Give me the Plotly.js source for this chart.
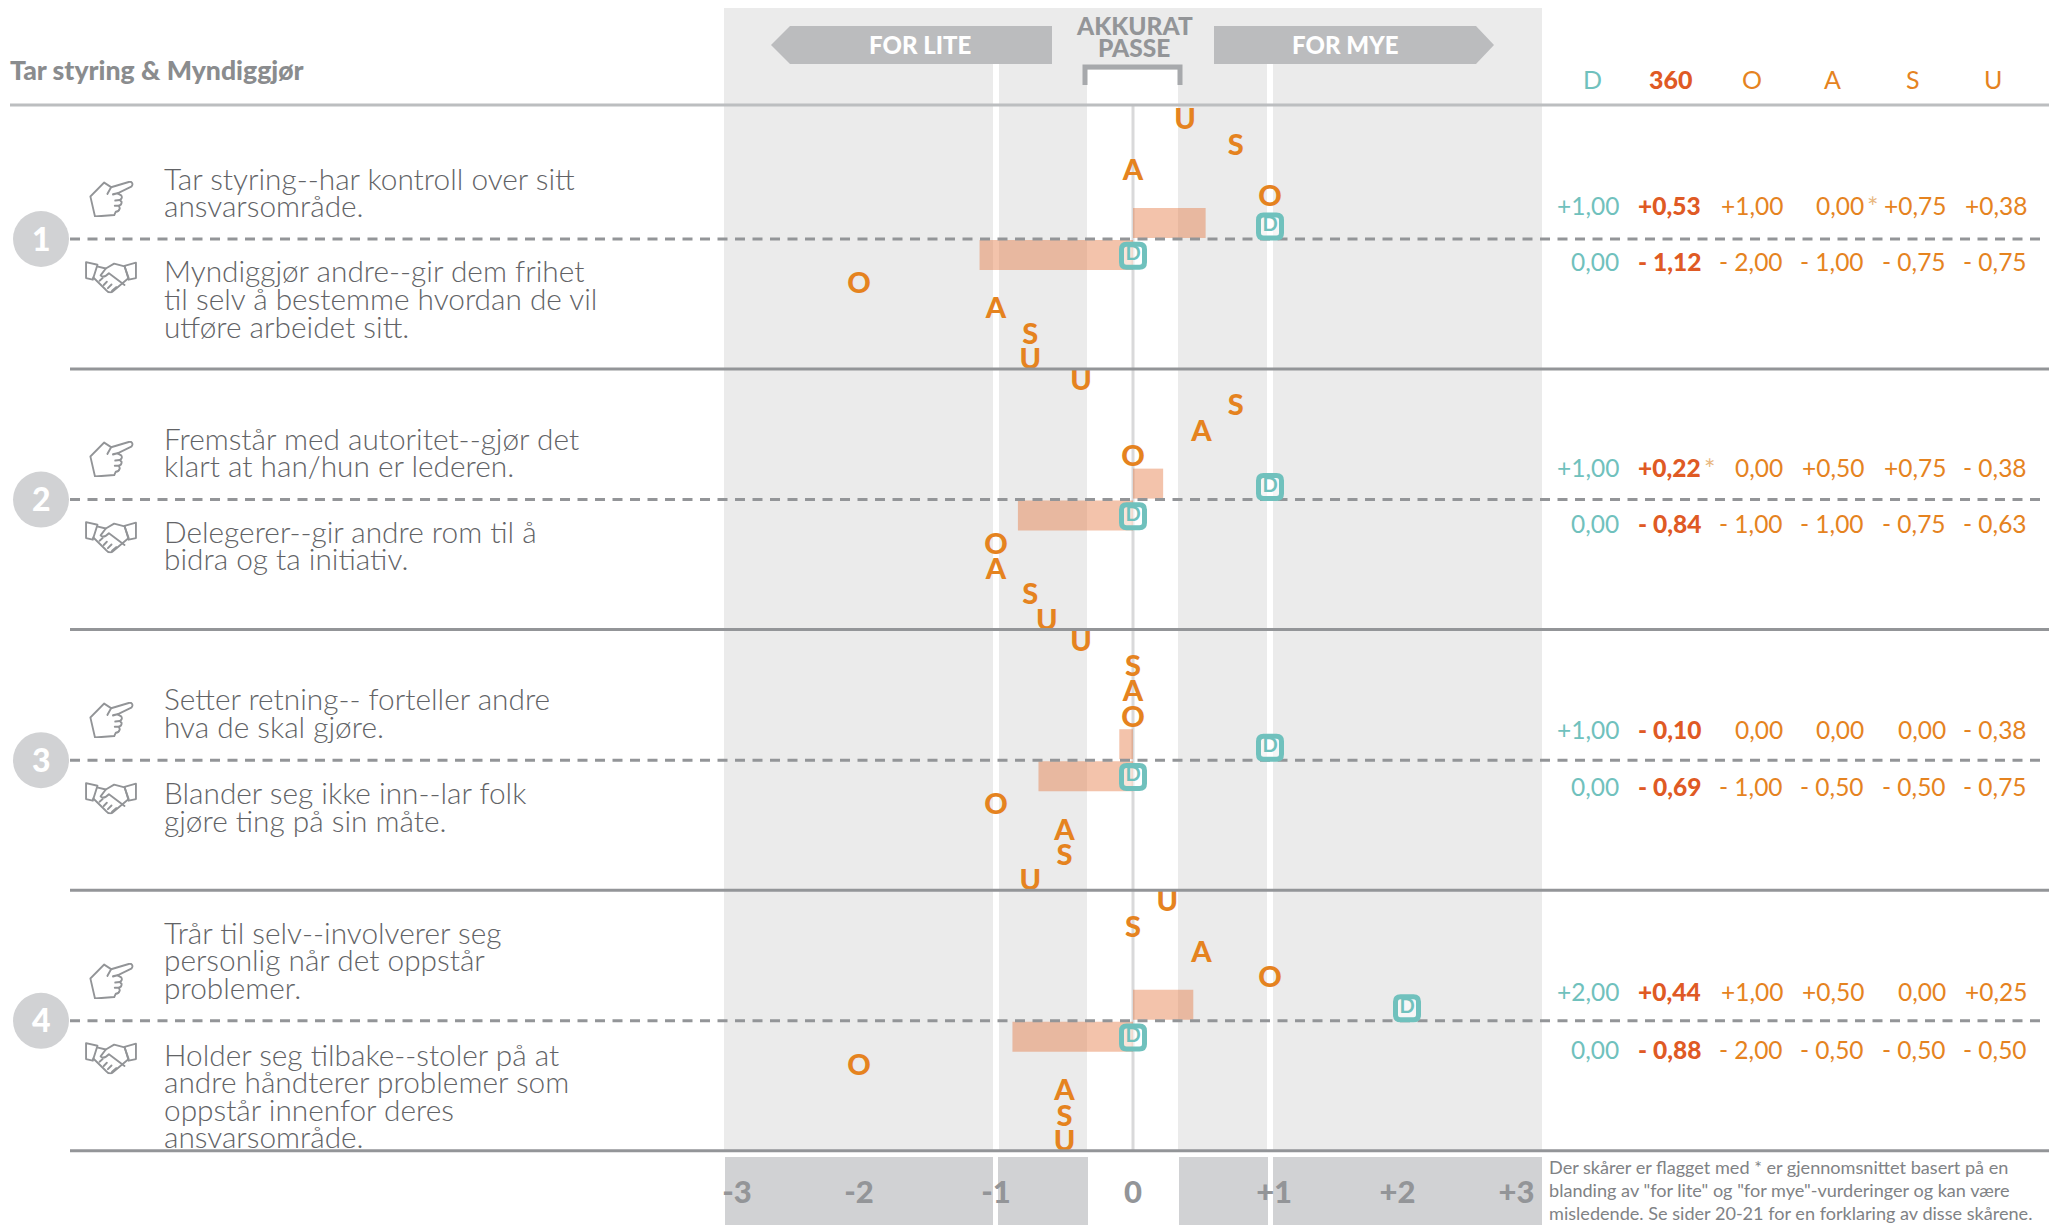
<!DOCTYPE html>
<html><head><meta charset="utf-8">
<script src="https://cdn.plot.ly/plotly-3.0.1.min.js"></script>
<style>
html,body{margin:0;padding:0;background:#fff;overflow:hidden}
#chart{width:2049px;height:1225px}
</style></head><body><div id="chart"></div>
<script>
// ---- data ----
const raterColumns = ["D","360","O","A","S","U"];
const scoreD   = [1,0,1,0,1,0,2,0];
const score360 = [0.53,-1.12,0.22,-0.84,-0.10,-0.69,0.44,-0.88];
const scoreO   = [1,-2,0,-1,0,-1,1,-2];
const scoreA   = [0,-1,0.5,-1,0,-0.5,0.5,-0.5];
const scoreS   = [0.75,-0.75,0.75,-0.75,0,-0.5,0,-0.5];
const scoreU   = [0.38,-0.75,-0.38,-0.63,-0.38,-0.75,0.25,-0.5];
const labelsD   = ["+1,00","0,00","+1,00","0,00","+1,00","0,00","+2,00","0,00"];
const labels360 = ["+0,53","- 1,12","+0,22*","- 0,84","- 0,10","- 0,69","+0,44","- 0,88"];
const labelsO   = ["+1,00","- 2,00","0,00","- 1,00","0,00","- 1,00","+1,00","- 2,00"];
const labelsA   = ["0,00*","- 1,00","+0,50","- 1,00","0,00","- 0,50","+0,50","- 0,50"];
const labelsS   = ["+0,75","- 0,75","+0,75","- 0,75","0,00","- 0,50","0,00","- 0,50"];
const labelsU   = ["+0,38","- 0,75","- 0,38","- 0,63","- 0,38","- 0,75","+0,25","- 0,50"];
const statements = [
 ["Tar styring--har kontroll over sitt","ansvarsområde."],
 ["Myndiggjør andre--gir dem frihet","til selv å bestemme hvordan de vil","utføre arbeidet sitt."],
 ["Fremstår med autoritet--gjør det","klart at han/hun er lederen."],
 ["Delegerer--gir andre rom til å","bidra og ta initiativ."],
 ["Setter retning-- forteller andre","hva de skal gjøre."],
 ["Blander seg ikke inn--lar folk","gjøre ting på sin måte."],
 ["Trår til selv--involverer seg","personlig når det oppstår","problemer."],
 ["Holder seg tilbake--stoler på at","andre håndterer problemer som","oppstår innenfor deres","ansvarsområde."]
];
const axisTickLabels = ["-3","-2","-1","0","+1","+2","+3"];
const footnote = ["Der skårer er flagget med * er gjennomsnittet basert på en",
 "blanding av \"for lite\" og \"for mye\"-vurderinger og kan være",
 "misledende. Se sider 20-21 for en forklaring av disse skårene."];

// ---- layout helpers ----
const W=2049,H=1225,PLOT_H=1171;
const X0=1133,XU=137,Y0=239,YU=260.6;
const xRange=[-X0/XU,(W-X0)/XU], yRange=[(PLOT_H-Y0)/YU,-Y0/YU];
const px=x=>x/W, py=y=>1-y/PLOT_H;
const TEXT='#6d6e71',ORANGE='#e5831f',TEAL='#70c1bd',RED='#df5a24',GRID='#939598',FONT='Lato';

const rows=[0,1,2,3,4,5,6,7];
const sign=i=>i%2===0?-1:1, group=i=>Math.floor(i/2);
const slotY=(i,rank)=>group(i)+sign(i)*(0.07+0.0975*rank)+0.0115;
const dY=i=>group(i)+(i%2?0.062:-0.05);

// ---- traces ----
const traces=[];
traces.push({type:'bar',orientation:'h',x:score360,base:0,y:rows.map(i=>group(i)+sign(i)*0.0614),width:0.115,
  marker:{color:'rgba(228,122,68,0.45)',line:{width:0}},hoverinfo:'x',showlegend:false});
[["O",scoreO,1],["A",scoreA,2],["S",scoreS,3],["U",scoreU,4]].forEach(([n,v,rank])=>{
  traces.push({type:'scatter',mode:'text',x:v,y:rows.map(i=>slotY(i,rank)),text:rows.map(()=>n),
    textposition:'middle center',textfont:{family:FONT,size:29,color:ORANGE,weight:900},cliponaxis:false,showlegend:false,name:n});
});
traces.push({type:'scatter',mode:'markers+text',x:scoreD,y:rows.map(dY),text:rows.map(()=>"D"),
  textposition:'middle center',textfont:{family:FONT,size:20,color:TEAL,weight:700},
  marker:{symbol:'square',size:22,color:'rgba(255,255,255,0.55)',line:{width:0}},showlegend:false,name:'D'});

// ---- shapes ----
const shapes=[];
const rect=(x0,y0,x1,y1,c,layer)=>shapes.push({type:'rect',xref:'paper',yref:'paper',x0:px(x0),x1:px(x1),y0:py(y0),y1:py(y1),fillcolor:c,line:{width:0},layer:layer||'below'});
const hline=(x0,x1,y,c,w,dash)=>shapes.push({type:'line',xref:'paper',yref:'paper',x0:px(x0),x1:px(x1),y0:py(y),y1:py(y),line:{color:c,width:w,dash:dash||'solid'},layer:'above'});
const poly=(pts,c)=>shapes.push({type:'path',xref:'paper',yref:'paper',path:'M'+pts.map(p=>px(p[0])+','+py(p[1])).join('L')+'Z',fillcolor:c,line:{width:0},layer:'below'});
const vline=(x,y0,y1,c,w)=>shapes.push({type:'line',xref:'x',yref:'paper',x0:x,x1:x,y0:py(y0),y1:py(y1),line:{color:c,width:w},layer:'below'});

rect(724,8,1542,1152,'#ebebeb');
rect(1087,70,1178,1152,'#ffffff');
vline(-1,64,1152,'#ffffff',6);
vline(1,64,1152,'#ffffff',6);
vline(0,105,1152,'#d9d9da',3);
[[725,993],[998,1088],[1179,1268],[1273,1542]].forEach(s=>rect(s[0],1157,s[1],1225,'#d1d2d4'));
poly([[771,45],[790,26],[1052,26],[1052,64],[790,64]],'#bbbcbe');
poly([[1214,26],[1476,26],[1494,45],[1476,64],[1214,64]],'#bbbcbe');
shapes.push({type:'path',xref:'paper',yref:'paper',path:`M${px(1085)},${py(85)}L${px(1085)},${py(67)}L${px(1180)},${py(67)}L${px(1180)},${py(85)}`,line:{color:'#a7a9ac',width:5},layer:'below'});

hline(10,W,105,'#bcbec0',3);
[0,1,2,3].forEach(g=>{
  const y=Y0+YU*g;
  hline(70,W-2,y,GRID,3,'10px,7.5px');
  hline(70,W,y+130,GRID,3);
  shapes.push({type:'circle',xref:'paper',yref:'paper',x0:px(13),x1:px(69),y0:py(y-28),y1:py(y+28),fillcolor:'#d1d2d4',line:{width:0},layer:'below'});
});
// rounded outline of each D marker, placed through the data axes
const hx=11.5/XU, hy=11.5/YU, rx=5/XU, ry=5/YU;
rows.forEach(i=>{
  const x=scoreD[i], y=dY(i)+0.002;
  shapes.push({type:'path',xref:'x',yref:'y',layer:'above',line:{color:TEAL,width:5},fillcolor:'rgba(0,0,0,0)',
    path:`M${x-hx+rx},${y-hy}L${x+hx-rx},${y-hy}Q${x+hx},${y-hy} ${x+hx},${y-hy+ry}L${x+hx},${y+hy-ry}Q${x+hx},${y+hy} ${x+hx-rx},${y+hy}L${x-hx+rx},${y+hy}Q${x-hx},${y+hy} ${x-hx},${y+hy-ry}L${x-hx},${y-hy+ry}Q${x-hx},${y-hy} ${x-hx+rx},${y-hy}Z`});
});

// ---- text ----
const ann=[];
const text=(t,x,y,o)=>{o=o||{};ann.push({text:t,xref:'paper',yref:'paper',x:px(x),y:py(y),xanchor:o.a||'left',yanchor:'middle',showarrow:false,borderpad:0,
  font:{family:FONT,size:o.s||27,color:o.c||TEXT,weight:o.w||400}});};
text("Tar styring & Myndiggjør",9,70,{s:26.6,c:'#8a8c8e',w:900});
text("FOR LITE",920,44,{a:'center',s:24,c:'#fff',w:900});
text("FOR MYE",1345,44,{a:'center',s:24,c:'#fff',w:900});
text("AKKURAT",1134,25,{a:'center',s:24.5,c:'#939598',w:900});
text("PASSE",1134,48,{a:'center',s:24.5,c:'#939598',w:900});

const stmtTop=[178,271,438,531,698.5,792.5,932,1054];
statements.forEach((lines,i)=>lines.forEach((l,j)=>text(l,162.5,stmtTop[i]+j*27.6,{s:29.8,c:'#626366',w:300})));
[0,1,2,3].forEach(g=>text(String(g+1),41,Y0+YU*g-1,{a:'center',s:32,c:'#fff',w:900}));

const colRight=[1619.5,1701.5,1783.5,1864.5,1946.5,2027.5], colHead=[1592,1670.5,1752,1832,1912.5,1993];
const colColor=[TEAL,RED,ORANGE,ORANGE,ORANGE,ORANGE];
raterColumns.forEach((n,c)=>text(n,colHead[c],79,{a:'center',s:25,c:colColor[c],w:c===1?900:400}));
const rowPx=[205,261.2,467.5,523.5,729,786.5,991.5,1049];
[labelsD,labels360,labelsO,labelsA,labelsS,labelsU].forEach((col,c)=>col.forEach((v,i)=>{
  const star=v.endsWith('*');
  text(star?v.slice(0,-1):v,colRight[c],rowPx[i],{a:'right',s:24.5,c:colColor[c],w:c===1?900:400});
  if(star) text('*',colRight[c]+1,rowPx[i]+1,{s:27,c:'#e8b77f'});
}));
footnote.forEach((l,j)=>text(l,1548,1166.5+j*23,{s:18.1,c:'#808285'}));

// ---- icons ----
const stroke='#929497';
const hand=`<svg xmlns="http://www.w3.org/2000/svg" viewBox="0 0 100 70"><g fill="none" stroke="${stroke}" stroke-width="4" stroke-linejoin="round" stroke-linecap="round"><path d="M3 30 L33 3 L48 12 L90 1 Q98 5 92 11 L62 24 L70 28 Q74 33 67 37 L71 41 Q71 47 65 48 L67 53 Q65 60 58 60 L55 66 L13 69 Z"/><path d="M48 12 L40 25 M62 24 L52 26 M67 37 L57 38 M65 48 L56 48"/></g></svg>`;
const shake=`<svg xmlns="http://www.w3.org/2000/svg" viewBox="0 0 100 62"><g fill="none" stroke="${stroke}" stroke-width="3.6" stroke-linejoin="round" stroke-linecap="round"><path d="M2 3 L24 8 L15 36 L2 33 Z"/><path d="M98 4 L76 10 L84 36 L98 33 Z"/><path d="M23 11 L40 15 L56 6 L76 11 L84 33 L52 59 Q46 62 40 55 L16 32"/><path d="M40 15 L30 28 Q36 34 46 24 L76 46"/><path d="M36 46 L42 40 M44 52 L51 45 M52 57 L60 50 M28 38 L34 33"/></g></svg>`;
const images=[];
const icon=(svg,cx,cy,w,h)=>images.push({source:'data:image/svg+xml;base64,'+btoa(svg),xref:'paper',yref:'paper',x:px(cx),y:py(cy),sizex:w/W,sizey:h/PLOT_H,xanchor:'center',yanchor:'middle',sizing:'stretch',layer:'above'});
[199,459,720,981].forEach(y=>icon(hand,112,y,46,36));
[277,537,798,1058].forEach(y=>icon(shake,111,y,52,33));

const layout={width:W,height:H,margin:{l:0,r:0,t:0,b:H-PLOT_H,pad:0},autosize:false,
  paper_bgcolor:'rgba(0,0,0,0)',plot_bgcolor:'rgba(0,0,0,0)',showlegend:false,barmode:'overlay',
  font:{family:FONT},
  xaxis:{range:xRange,showgrid:false,zeroline:false,showline:false,ticks:'',fixedrange:true,
    tickmode:'array',tickvals:[-2.89,-2.0,-1.0,0,1.03,1.93,2.8],ticktext:axisTickLabels,
    tickfont:{family:FONT,size:31,color:'#939598',weight:900},ticklen:0,automargin:false},
  yaxis:{range:yRange,visible:false,showgrid:false,zeroline:false,fixedrange:true},
  shapes:shapes,annotations:ann,images:images};
Plotly.newPlot('chart',traces,layout,{displayModeBar:false,staticPlot:true});
</script></body></html>
